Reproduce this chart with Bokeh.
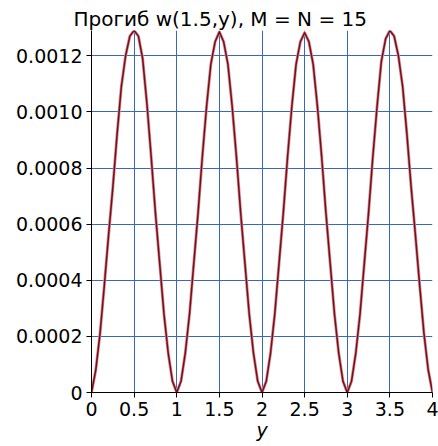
from bokeh.plotting import figure
from bokeh.models import FixedTicker, Range1d
from bokeh.embed import file_html
from bokeh.resources import INLINE

# Deflection w(1.5, y) along y, series truncated at M = N = 15
title_text = "Прогиб w(1.5,y), M = N = 15"
x_label = "y"

y_pos = [
    0.00, 0.05, 0.10, 0.15, 0.20, 0.25, 0.30, 0.35, 0.40, 0.45,
    0.50, 0.55, 0.60, 0.65, 0.70, 0.75, 0.80, 0.85, 0.90, 0.95,
    1.00, 1.05, 1.10, 1.15, 1.20, 1.25, 1.30, 1.35, 1.40, 1.45,
    1.50, 1.55, 1.60, 1.65, 1.70, 1.75, 1.80, 1.85, 1.90, 1.95,
    2.00, 2.05, 2.10, 2.15, 2.20, 2.25, 2.30, 2.35, 2.40, 2.45,
    2.50, 2.55, 2.60, 2.65, 2.70, 2.75, 2.80, 2.85, 2.90, 2.95,
    3.00, 3.05, 3.10, 3.15, 3.20, 3.25, 3.30, 3.35, 3.40, 3.45,
    3.50, 3.55, 3.60, 3.65, 3.70, 3.75, 3.80, 3.85, 3.90, 3.95,
    4.00,
]

w_vals = [
    0.0, 0.80e-4, 2.10e-4, 3.80e-4, 5.60e-4, 7.30e-4, 9.20e-4, 10.90e-4, 12.00e-4, 12.70e-4,
    12.90e-4, 12.70e-4, 11.90e-4, 10.30e-4, 8.40e-4, 6.40e-4, 4.60e-4, 2.80e-4, 1.40e-4, 0.40e-4,
    0.0, 0.40e-4, 1.40e-4, 2.80e-4, 4.60e-4, 6.40e-4, 8.40e-4, 10.20e-4, 11.70e-4, 12.50e-4,
    12.85e-4, 12.50e-4, 11.70e-4, 10.20e-4, 8.40e-4, 6.40e-4, 4.60e-4, 2.80e-4, 1.40e-4, 0.40e-4,
    0.0, 0.40e-4, 1.40e-4, 2.80e-4, 4.60e-4, 6.40e-4, 8.40e-4, 10.20e-4, 11.70e-4, 12.50e-4,
    12.82e-4, 12.50e-4, 11.70e-4, 10.20e-4, 8.40e-4, 6.40e-4, 4.60e-4, 2.80e-4, 1.40e-4, 0.40e-4,
    0.0, 0.40e-4, 1.40e-4, 2.80e-4, 4.60e-4, 6.40e-4, 8.40e-4, 10.20e-4, 11.80e-4, 12.60e-4,
    12.90e-4, 12.70e-4, 12.00e-4, 10.90e-4, 9.20e-4, 7.30e-4, 5.60e-4, 3.80e-4, 2.10e-4, 0.80e-4,
    0.0,
]

x_ticks = [0, 0.5, 1, 1.5, 2, 2.5, 3, 3.5, 4]
x_tick_labels = ["0", "0.5", "1", "1.5", "2", "2.5", "3", "3.5", "4"]
w_ticks = [0, 0.0002, 0.0004, 0.0006, 0.0008, 0.0010, 0.0012]
w_tick_labels = ["0", "0.0002", "0.0004", "0.0006", "0.0008", "0.0010", "0.0012"]

FONT = "DejaVu Sans"
GRID = "#3768c0"
CURVE = "#7e0b16"

p = figure(
    width=438, height=446,
    output_backend="svg", toolbar_location=None,
    x_range=Range1d(0, 4), y_range=Range1d(0, 0.00129),
    min_border_left=91, min_border_right=6,
    min_border_top=30, min_border_bottom=54,
)
p.outline_line_color = None
p.background_fill_color = "white"
p.border_fill_color = "white"

p.title.text = title_text
p.title.align = "left"
p.title.offset = -18
p.title.standoff = 0
p.title.text_font = FONT
p.title.text_font_size = "20px"
p.title.text_font_style = "normal"
p.title.text_color = "black"

# axes
p.xaxis.ticker = FixedTicker(ticks=x_ticks)
p.xaxis.major_label_overrides = dict(zip(x_ticks, x_tick_labels))
p.yaxis.ticker = FixedTicker(ticks=w_ticks)
p.yaxis.major_label_overrides = dict(zip(w_ticks, w_tick_labels))

for ax in (p.xaxis[0], p.yaxis[0]):
    ax.axis_line_color = "black"
    ax.axis_line_width = 1
    ax.major_tick_in = 0
    ax.major_tick_out = 5
    ax.major_tick_line_color = "black"
    ax.minor_tick_out = 0
    ax.minor_tick_in = 0
    ax.major_label_text_font = FONT
    ax.major_label_text_font_size = "19px"
    ax.major_label_text_color = "black"
    ax.major_label_standoff = 4

p.xaxis.axis_label = x_label
p.xaxis.axis_label_text_font = FONT
p.xaxis.axis_label_text_font_size = "19px"
p.xaxis.axis_label_text_font_style = "italic"
p.xaxis.axis_label_text_color = "black"
p.xaxis.axis_label_standoff = 0

# grid
p.xgrid.ticker = FixedTicker(ticks=x_ticks)
p.ygrid.ticker = FixedTicker(ticks=w_ticks)
for g in (p.xgrid[0], p.ygrid[0]):
    g.grid_line_color = GRID
    g.grid_line_width = 1
    g.grid_line_alpha = 1.0

# curve: soft halo underneath, dark line on top
p.line(y_pos, w_vals, line_color="#c99198", line_width=3.0, line_join="round")
p.line(y_pos, w_vals, line_color=CURVE, line_width=1.5, line_join="round")

open("out.html", "w").write(file_html(p, INLINE))
